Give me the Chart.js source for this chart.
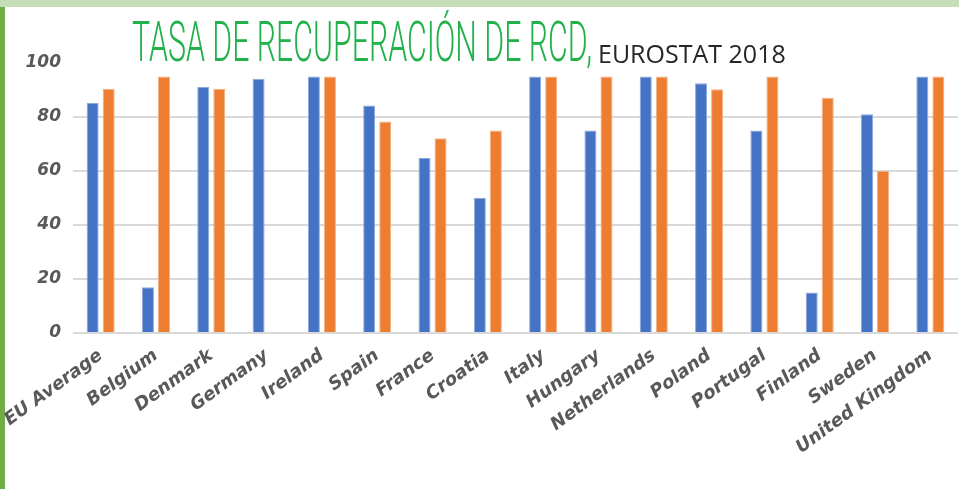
<!DOCTYPE html>
<html>
<head>
<meta charset="utf-8">
<script src="https://cdn.jsdelivr.net/npm/chart.js@4"></script>
<style>
  html, body { margin: 0; padding: 0; background: #fff; }
  #page { position: relative; width: 959px; height: 489px; overflow: hidden; background: #fff; }
  #topbar { position: absolute; left: 0; top: 0; width: 959px; height: 7px; background: #c6deb6; }
  #sidebar { position: absolute; left: 0; top: 7px; width: 5px; height: 482px; background: #70ad47; }
  #chart { position: absolute; left: 0; top: 0; }
  #title { position: absolute; left: 132px; top: 9px; white-space: nowrap; z-index: 2; }
  #title-main { display: inline-block; font-family: Roboto, sans-serif; font-weight: 300; font-size: 56px;
    color: #23b14d; transform-origin: 0 0; }
  #title-sub { position: absolute; left: 466px; top: 27px; font-family: "Open Sans", sans-serif; font-size: 25px;
    color: #262626; white-space: nowrap; }
</style>
</head>
<body>
<div id="page">
  <div id="topbar"></div>
  <div id="sidebar"></div>
  <canvas id="chart" width="959" height="489"></canvas>
  <div id="title"><span id="title-main">TASA DE RECUPERACIÓN DE RCD,</span><span id="title-sub">EUROSTAT 2018</span></div>
</div>
<script>
const countries = ["EU Average", "Belgium", "Denmark", "Germany", "Ireland", "Spain", "France", "Croatia",
  "Italy", "Hungary", "Netherlands", "Poland", "Portugal", "Finland", "Sweden", "United Kingdom"];
const series_blue = [85.2, 16.9, 91.1, 94.2, 95, 84.3, 64.8, 50.1, 95, 75, 95, 92.5, 75, 15, 81, 95];
const series_orange = [90.5, 95, 90.5, null, 95, 78.3, 72.1, 75, 95, 95, 95, 90.3, 95, 87.1, 60, 95];
const y_ticks = [0, 20, 40, 60, 80, 100];

// squeeze the title into the condensed look of the original
const title_main = document.getElementById("title-main");
const title_w = title_main.getBoundingClientRect().width;
title_main.style.transform = `scale(${460 / title_w}, 1)`;

const label_font = { family: "DejaVu Sans", weight: "bold", style: "italic" };

new Chart(document.getElementById("chart"), {
  type: 'bar',
  data: {
    labels: countries,
    datasets: [{
      label: "Serie 1",
      data: series_blue,
      backgroundColor: "#4472c4",
      borderColor: "#8eaadb",
      borderWidth: 1
    },
    {
      label: "Serie 2",
      data: series_orange,
      backgroundColor: "#ed7d31",
      borderColor: "#f4b183",
      borderWidth: 1
    }]
  },
  options: {
    responsive: false,
    animation: false,
    categoryPercentage: 0.58,
    barPercentage: 0.75,
    layout: {
      autoPadding: false,
      padding: { left: 0, right: 1, top: 63, bottom: 0 }
    },
    plugins: {
      legend: { display: false },
      tooltip: { enabled: false }
    },
    scales: {
      x: {
        grid: { display: false },
        border: { display: false },
        ticks: {
          color: "#595959",
          font: { ...label_font, size: 18 },
          minRotation: 36,
          maxRotation: 36,
          autoSkip: false,
          padding: 4
        },
        afterFit: s => { s.height = 156; s.paddingLeft = 0; s.paddingRight = 0; }
      },
      y: {
        min: 0,
        max: 100,
        afterBuildTicks: s => { s.ticks = y_ticks.map(v => ({ value: v })); },
        grid: {
          color: ctx => ctx.tick && ctx.tick.value === 100 ? "rgba(0,0,0,0)" : "#d9d9d9",
          lineWidth: 2,
          drawTicks: false
        },
        border: { display: false },
        ticks: {
          color: "#595959",
          font: { ...label_font, size: 17 },
          padding: 12
        },
        afterFit: s => { s.width = 73; }
      }
    }
  }
});
</script>
</body>
</html>
